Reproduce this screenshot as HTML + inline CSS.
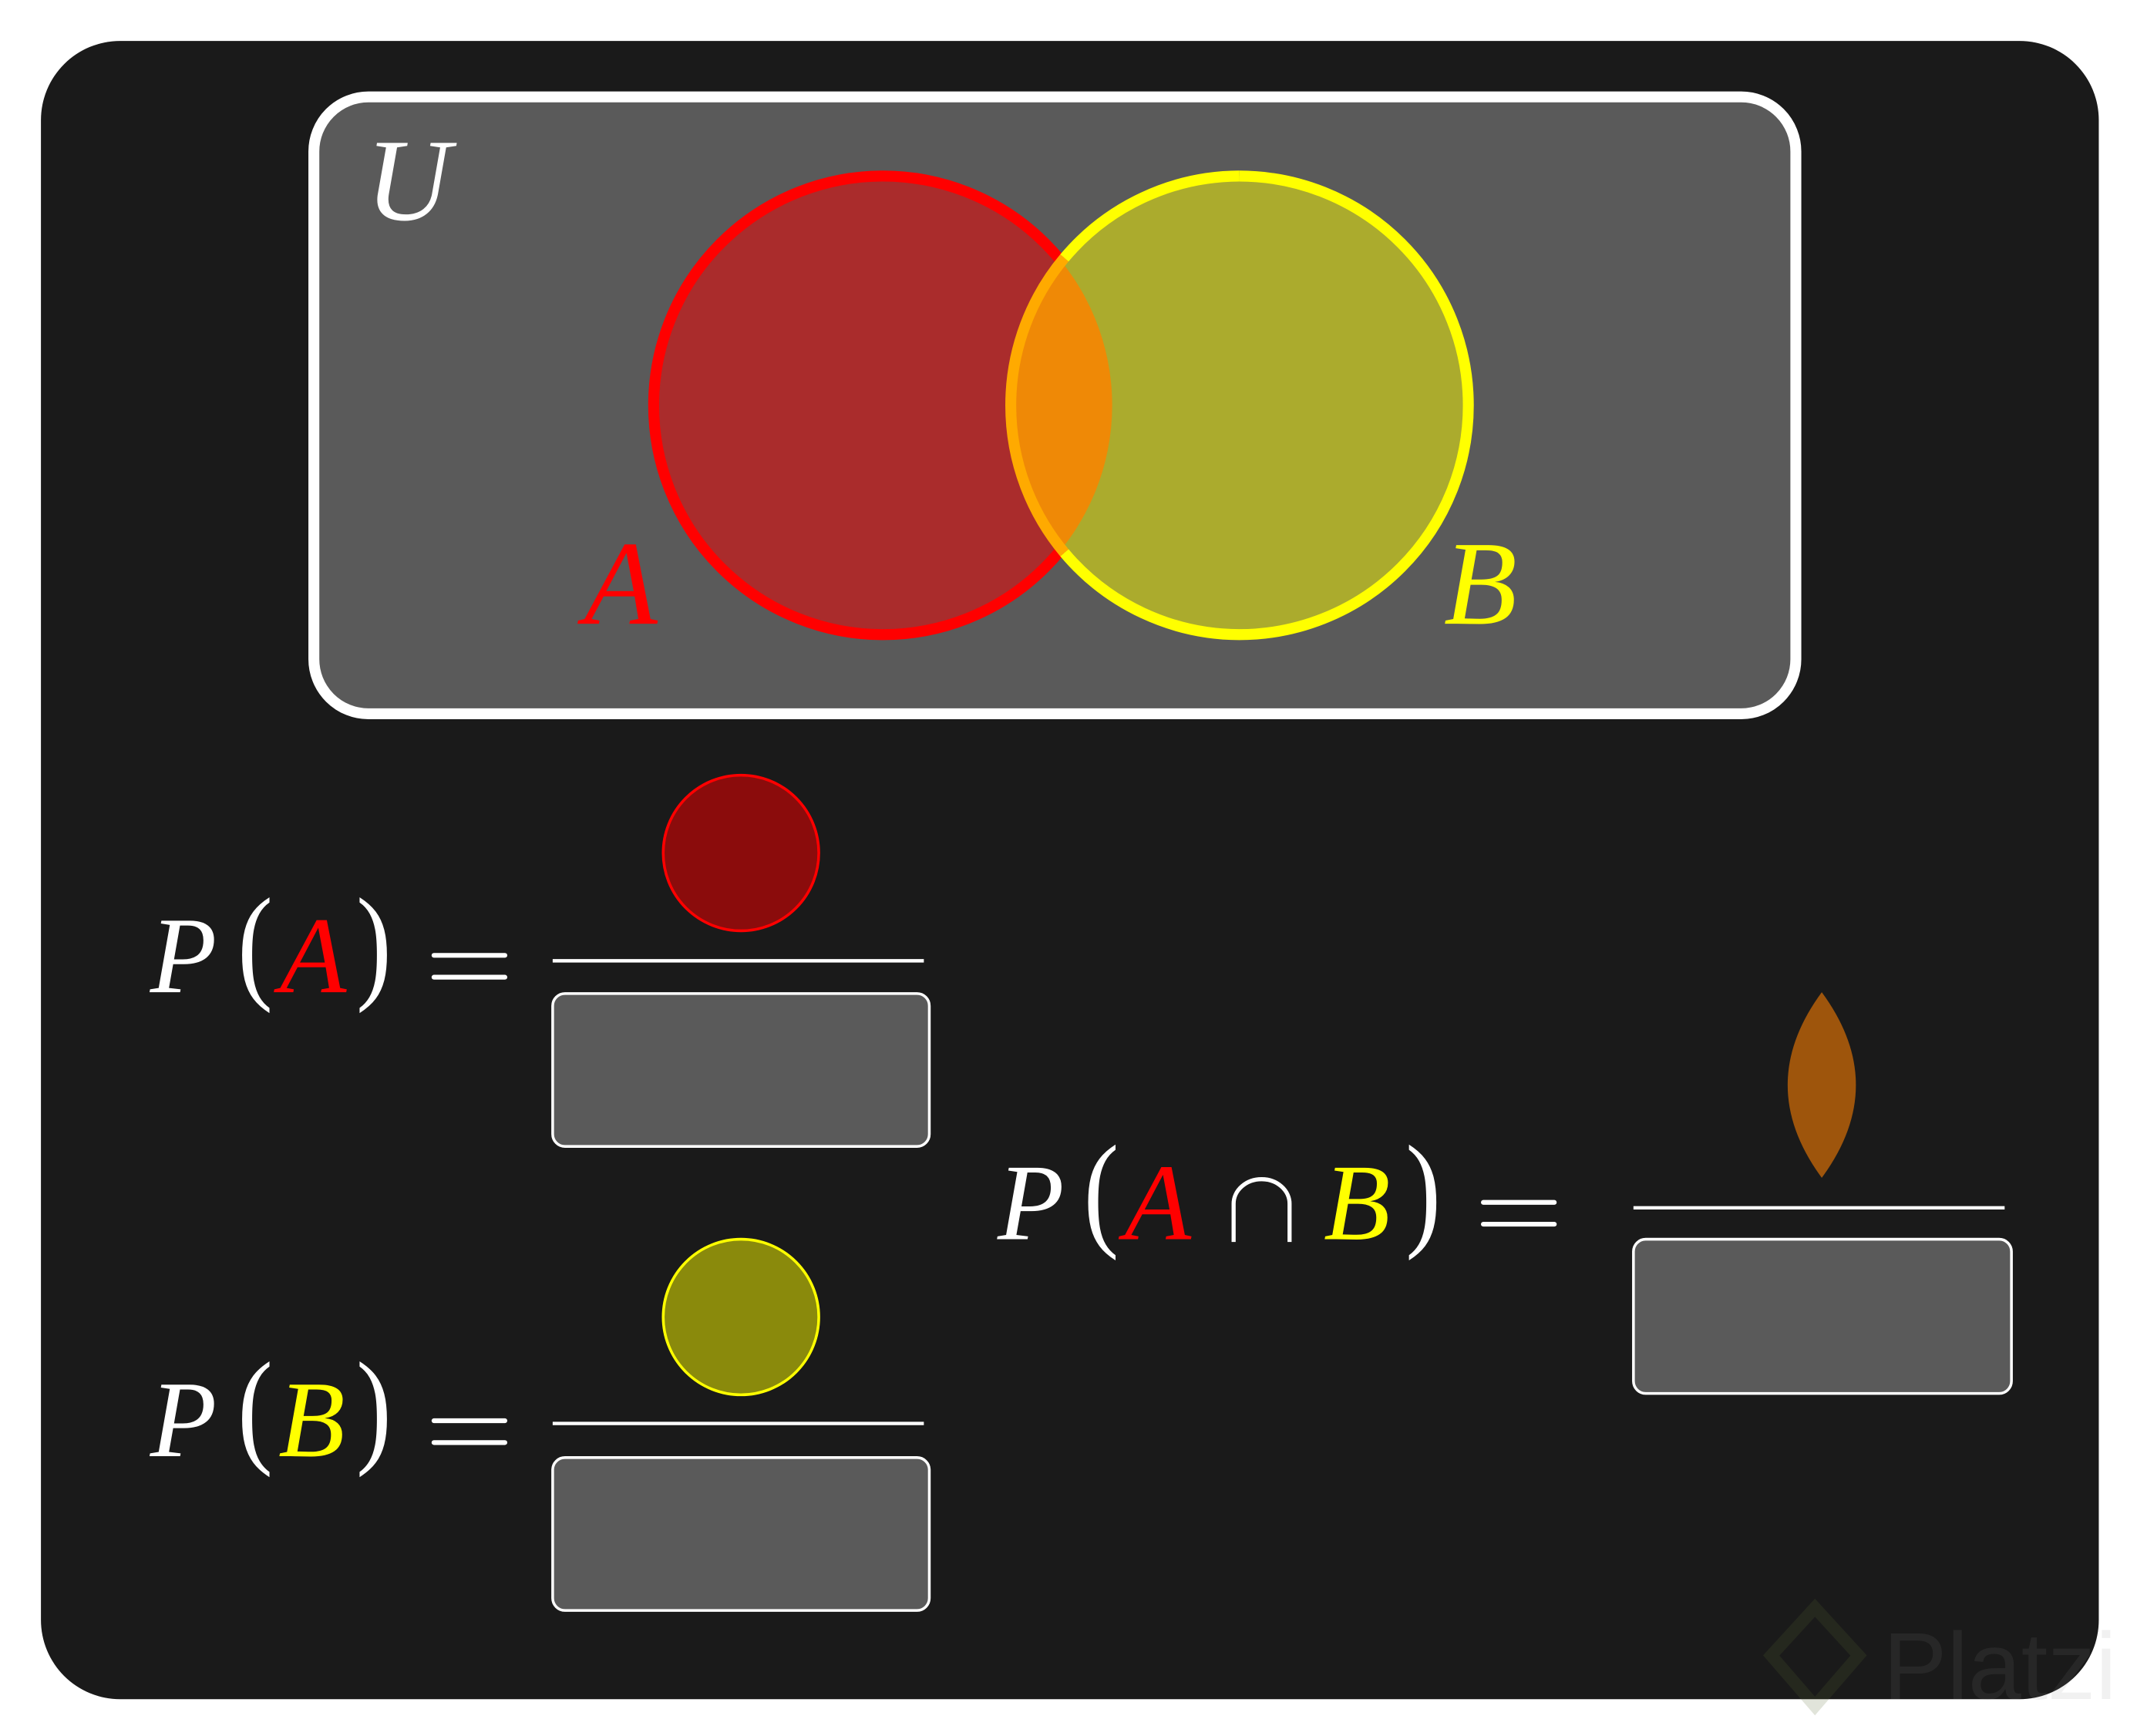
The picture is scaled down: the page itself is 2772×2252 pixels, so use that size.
<!DOCTYPE html>
<html><head><meta charset="utf-8"><style>
html,body{margin:0;padding:0;background:#fff;width:2772px;height:2252px;overflow:hidden}
svg{display:block}
.it{font-family:"Liberation Serif",serif;font-style:italic}
.rm{font-family:"Liberation Serif",serif}
</style></head><body>
<svg width="2772" height="2252" viewBox="0 0 1566 1272" preserveAspectRatio="none" xmlns="http://www.w3.org/2000/svg">
<defs>
<clipPath id="ca"><circle cx="647" cy="297" r="168"/></clipPath>
</defs>
<rect x="0" y="0" width="1566" height="1272" fill="#fff"/>
<rect x="30" y="30" width="1508" height="1215" rx="58" fill="#1a1a1a"/>
<rect x="230" y="71" width="1086" height="452" rx="40" fill="#5a5a5a" stroke="#fff" stroke-width="8"/>
<text x="268" y="161" class="it" font-size="86" fill="#fff">U</text>
<circle cx="647" cy="297" r="168" fill="#aa2c2c"/>
<circle cx="647" cy="297" r="168" fill="none" stroke="#ff0000" stroke-width="8"/>
<circle cx="908" cy="297" r="168" fill="#abab2d"/>
<g clip-path="url(#ca)">
<circle cx="908" cy="297" r="168" fill="#ef8906"/>
</g>
<path d="M908 129 A168 168 0 1 1 908 465 A168 168 0 0 1 780 405" fill="none" stroke="#ffff00" stroke-width="8"/>
<path d="M780 405 A168 168 0 0 1 780 189" fill="none" stroke="#ffaa00" stroke-width="8"/>
<path d="M780 189 A168 168 0 0 1 908 129" fill="none" stroke="#ffff00" stroke-width="8"/>
<text x="428" y="457" class="it" font-size="88" fill="#ff0000">A</text>
<text x="1058" y="457" class="it" font-size="88" fill="#ffff00">B</text>

<text x="110" y="727" class="it" font-size="80" fill="#fff">P</text>
<text x="174" y="727" class="rm" font-size="78" fill="#fff" transform="translate(0,-150) scale(1,1.2)">(</text>
<text x="205" y="727" class="it" font-size="80" fill="#ff0000">A</text>
<text x="261" y="727" class="rm" font-size="78" fill="#fff" transform="translate(0,-150) scale(1,1.2)">)</text>
<line x1="318" y1="700" x2="370" y2="700" stroke="#fff" stroke-width="3.5" stroke-linecap="round"/>
<line x1="318" y1="716" x2="370" y2="716" stroke="#fff" stroke-width="3.5" stroke-linecap="round"/>
<line x1="405" y1="704" x2="677" y2="704" stroke="#fff" stroke-width="2.5"/>
<circle cx="543" cy="625" r="57" fill="#8b0c0c" stroke="#ff0000" stroke-width="2"/>
<rect x="405" y="728" width="276" height="112" rx="9" fill="#5a5a5a" stroke="#fff" stroke-width="2"/>

<text x="110" y="1067" class="it" font-size="80" fill="#fff">P</text>
<text x="174" y="1067" class="rm" font-size="78" fill="#fff" transform="translate(0,-218) scale(1,1.2)">(</text>
<text x="204" y="1067" class="it" font-size="80" fill="#ffff00">B</text>
<text x="261" y="1067" class="rm" font-size="78" fill="#fff" transform="translate(0,-218) scale(1,1.2)">)</text>
<line x1="318" y1="1041" x2="370" y2="1041" stroke="#fff" stroke-width="3.5" stroke-linecap="round"/>
<line x1="318" y1="1057" x2="370" y2="1057" stroke="#fff" stroke-width="3.5" stroke-linecap="round"/>
<line x1="405" y1="1043" x2="677" y2="1043" stroke="#fff" stroke-width="2.5"/>
<circle cx="543" cy="965" r="57" fill="#8a8a0c" stroke="#ffff00" stroke-width="2"/>
<rect x="405" y="1068" width="276" height="112" rx="9" fill="#5a5a5a" stroke="#fff" stroke-width="2"/>

<text x="731" y="908" class="it" font-size="80" fill="#fff">P</text>
<text x="794" y="908" class="rm" font-size="78" fill="#fff" transform="translate(0,-186) scale(1,1.2)">(</text>
<text x="824" y="908" class="it" font-size="80" fill="#ff0000">A</text>
<path d="M904 910 V882 A20.5 18 0 0 1 945 882 V910" fill="none" stroke="#fff" stroke-width="3"/>
<text x="970" y="908" class="it" font-size="80" fill="#ffff00">B</text>
<text x="1030" y="908" class="rm" font-size="78" fill="#fff" transform="translate(0,-186) scale(1,1.2)">)</text>
<line x1="1087" y1="881" x2="1139" y2="881" stroke="#fff" stroke-width="3.5" stroke-linecap="round"/>
<line x1="1087" y1="897" x2="1139" y2="897" stroke="#fff" stroke-width="3.5" stroke-linecap="round"/>
<line x1="1197" y1="885" x2="1469" y2="885" stroke="#fff" stroke-width="2.5"/>
<path d="M1335 727 Q1385 795 1335 863 Q1285 795 1335 727Z" fill="#9e550c"/>
<rect x="1197" y="908" width="277" height="113" rx="9" fill="#5a5a5a" stroke="#fff" stroke-width="2"/>

<path d="M1330 1178 L1362 1213 L1330 1250 L1298 1213Z" fill="none" stroke="#5a6a30" stroke-opacity="0.18" stroke-width="9"/>
<text x="1380" y="1245" font-family="Liberation Sans,sans-serif" font-size="70" fill="#888" fill-opacity="0.12">Platzi</text>
</svg>
</body></html>
